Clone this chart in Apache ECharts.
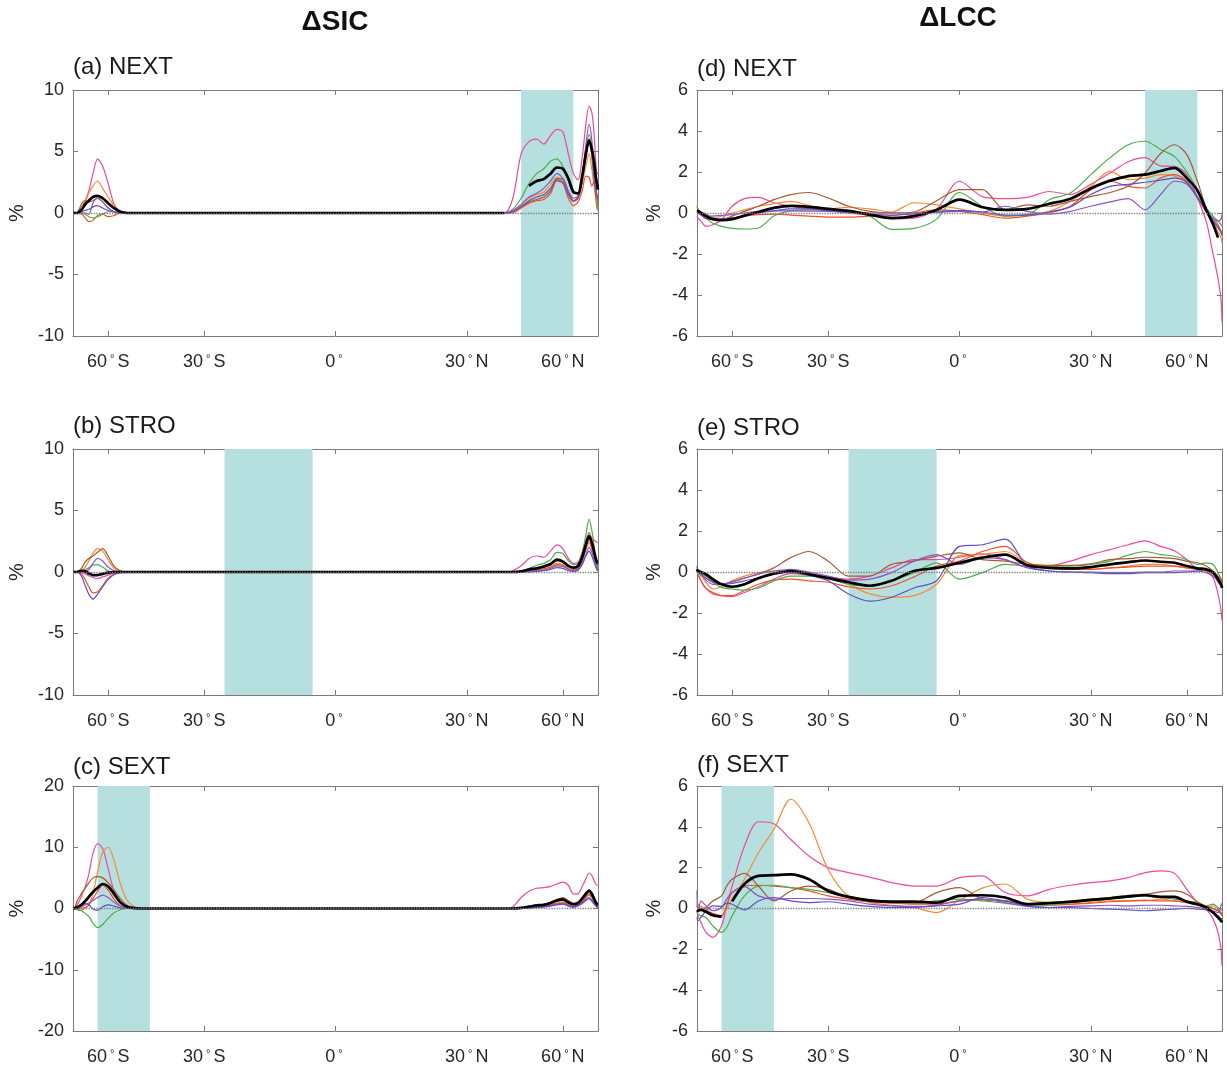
<!DOCTYPE html>
<html>
<head>
<meta charset="utf-8">
<script src="https://cdn.jsdelivr.net/npm/echarts@6/dist/echarts.min.js"></script>
<style>
html,body{margin:0;padding:0;background:#fff;}
#chart{width:1227px;height:1069px;}
</style>
</head>
<body>
<div id="chart"></div>
<script>
// ---------- latitude grids ----------
const LAT_SIC = [-90,-87.5,-85,-82.5,-80,-77.5,-75,-72.5,-70,-67.5,-65,-62.5,-60,-57.5,-55,-52.5,-50,-47.5,-45,
  -30,0,30,
  40,42.5,45,47.5,50,52.5,55,57.5,60,62.5,65,67.5,70,72.5,75,77.5,80,82.5,85,87.5,90];
const LAT_LCC = [-90,-85,-80,-75,-70,-65,-60,-55,-50,-45,-40,-35,-30,-25,-20,-15,-10,-5,0,
  5,10,15,20,25,30,35,40,45,50,55,60,65,70,75,80,85,90];
const LAT_LCC_F = [-90,-85,-80,-75,-70,-65,-62.5,-60,-55,-50,-45,-40,-35,-30,-25,-20,-15,-10,-5,0,
  5,10,15,20,25,30,35,40,45,50,55,60,65,70,75,80,85,90];

// x tick labels (latitude)
const TICK_LATS = [-60,-30,0,30,60];
const TICK_NUM = ['60','30','0','30','60'];
const TICK_HEMI = ['S','S','','N','N'];

// ---------- (a) NEXT  dSIC ----------
const A_PINK   = [0,0,0,0,0,0.1,0.5,1.0,1.8,3.2,4.4,3.8,2.4,0.7,0.1,0,0,0,0, 0,0,0, 0,1.2,4.8,5.8,6.0,5.6,6.3,6.8,6.6,4.8,3.2,2.7,4.5,7.2,8.7,8.2,6.5,4.2,3.2,3.2,3.3];
const A_ORANGE = [0,0,0,0,0,0.2,0.5,0.9,1.6,2.2,2.6,2.0,1.3,0.6,0.15,0,0,0,0, 0,0,0, 0,0.1,0.6,1.2,1.5,1.7,2.3,2.9,2.6,1.5,0.9,1.2,2.4,3.8,4.8,3.6,2.2,1.4,1.0,0.8,0.8];
const A_RED    = [0,0,0,0,0,-0.05,-0.1,-0.4,-0.7,-0.6,-0.2,-0.1,-0.3,-0.2,0,0,0,0,0, 0,0,0, 0,0,0.4,0.8,1.0,1.1,1.6,2.6,2.4,1.2,0.6,0.9,1.8,3.0,2.9,2.2,2.6,1.2,0.4,0.2,0.2];
const A_GREEN  = [0,0,0,0,0,0,0,-0.1,-0.3,-0.4,-0.3,-0.1,0.1,0.1,0,0,0,0,0, 0,0,0, 0,0.3,1.2,2.4,3.2,3.6,4.2,4.4,3.8,2.6,1.8,1.6,3.0,5.2,6.4,5.4,3.6,2.2,1.2,0.5,0.3];
const A_BROWN  = [0,0,0,0,0,0.3,0.8,1.0,0.9,1.0,1.2,0.9,0.4,0.1,0,0,0,0,0, 0,0,0, 0,0.1,0.5,0.9,1.1,1.3,1.8,2.8,2.8,1.7,1.0,1.3,3.0,5.0,6.0,4.6,2.8,1.8,1.3,1.0,1.0];
const A_PURPLE = [0,0,0,0,0,0,0,0,-0.1,0.8,1.2,0.9,0.4,0.1,0,0,0,0,0, 0,0,0, 0,0.2,0.7,1.3,1.6,2.0,2.6,3.2,2.8,1.8,1.2,1.4,3.0,5.5,7.2,6.0,3.5,2.4,2.0,2.0,2.0];
const A_INDIGO = [0,0,0,0,0,0,0.1,0.2,0.3,0.5,0.6,0.4,0.2,0.1,0,0,0,0,0, 0,0,0, 0,0.1,0.5,1.0,1.3,1.5,2.0,2.7,2.5,1.5,1.0,1.2,2.6,4.5,5.8,4.8,3.0,2.0,1.5,1.2,1.2];
const A_MEAN   = [0,0,0,0,0,0.1,0.3,0.7,1.0,1.3,1.4,1.2,0.8,0.4,0.1,0,0,0,0, 0,0,0, 0,'-','-',2.2,2.6,2.75,3.2,3.7,3.6,2.8,1.7,1.6,3.0,4.8,5.9,5.2,4.2,3.0,2.4,2.0,1.9];

// ---------- (b) STRO  dSIC ----------
const B_PINK   = [0,0,0,0,0,0,-0.05,-0.15,-0.3,-0.45,-0.55,-0.4,-0.25,-0.1,0,0,0,0,0, 0,0,0, 0,0.1,0.5,1.1,1.3,1.2,1.7,2.2,1.9,1.1,0.7,0.8,1.6,2.6,3.0,2.8,2.6,2.5,2.4,2.4,2.4];
const B_ORANGE = [0,0,0,0,0,0.05,0.1,0.4,0.9,1.5,1.9,1.7,1.0,0.3,0.05,0,0,0,0, 0,0,0, 0,0,0.05,0.15,0.2,0.3,0.45,0.7,0.6,0.3,0.2,0.35,1.0,2.0,2.6,2.0,1.2,0.7,0.5,0.4,0.4];
const B_RED    = [0,0,0,0,0,-0.05,-0.2,-0.6,-1.2,-1.7,-1.6,-1.1,-0.5,-0.2,-0.05,0,0,0,0, 0,0,0, 0,0,0,0.1,0.15,0.25,0.4,0.6,0.55,0.25,0.15,0.3,0.9,1.8,2.4,1.9,1.1,0.6,0.4,0.3,0.3];
const B_GREEN  = [0,0,0,0,0,0,0.05,0.2,0.35,0.55,0.6,0.4,0.1,0,0,0,0,0,0, 0,0,0, 0,0,0.05,0.3,0.55,0.7,1.0,1.6,1.5,0.9,0.6,0.7,1.6,3.0,4.3,3.4,2.2,1.0,0.5,0.3,0.3];
const B_BROWN  = [0,0,0,0,0,0.1,0.35,0.8,1.1,1.3,1.6,1.9,1.3,0.45,0.1,0,0,0,0, 0,0,0, 0,0,0.05,0.2,0.3,0.4,0.6,0.9,0.8,0.5,0.3,0.5,1.3,2.4,3.2,2.6,1.6,1.0,0.7,0.6,0.6];
const B_PURPLE = [0,0,0,0,0,0,0,0.05,0.2,0.7,1.1,0.9,0.4,0.1,0,0,0,0,0, 0,0,0, 0,0,0,0.05,0.1,0.15,0.3,0.5,0.45,0.2,0.1,0.2,0.7,1.4,2.0,1.6,1.0,0.5,0.2,0.1,0.1];
const B_INDIGO = [0,0,0,0,0,-0.1,-0.4,-1.1,-1.8,-2.2,-1.8,-1.2,-0.6,-0.2,-0.05,0,0,0,0, 0,0,0, 0,0,0,0,0.05,0.1,0.2,0.35,0.3,0.1,0.05,0.15,0.6,1.3,1.7,1.3,0.8,0.4,0.2,0.1,0.1];
const B_MEAN   = [0,0,0,0,0,0.05,0.1,0.05,-0.1,-0.25,-0.25,-0.15,-0.05,0,0,0,0,0,0, 0,0,0, 0,0,0.05,0.2,0.3,0.45,0.65,1.0,0.85,0.5,0.35,0.5,1.2,2.2,2.9,2.4,1.7,1.1,0.8,0.7,0.7];

// ---------- (c) SEXT  dSIC ----------
const C_PINK   = [0,0,0,0.2,0.6,1.2,2.2,3.5,5.6,9.0,10.6,9.8,6.5,2.8,0.8,0.1,0,0,0, 0,0,0, 0,0.3,1.8,2.8,3.3,3.4,3.6,4.0,4.3,3.8,2.4,2.4,3.6,4.8,5.8,5.4,4.6,4.0,3.8,3.8,3.8];
const C_ORANGE = [0,0,0,0,0,0,0.1,0.2,0.5,2.5,6.0,9.2,10.0,7.8,4.0,1.3,0.3,0,0, 0,0,0, 0,0,0.05,0.2,0.3,0.4,0.6,0.9,1.0,0.7,0.5,0.7,1.2,2.0,2.4,2.0,1.3,0.8,0.5,0.4,0.4];
const C_RED    = [0,0,0,0,-0.2,-0.3,-0.2,0.1,0.6,1.6,2.8,3.8,3.0,1.5,0.4,0.05,0,0,0, 0,0,0, 0,0,0.05,0.15,0.3,0.4,0.6,0.8,0.9,0.6,0.4,0.6,1.1,1.8,2.2,1.8,1.2,0.7,0.4,0.3,0.3];
const C_GREEN  = [0,0,0,0,-0.1,-0.2,-0.4,-0.8,-1.3,-2.4,-3.1,-2.6,-1.6,-0.7,-0.2,0,0,0,0, 0,0,0, 0,0,0.1,0.2,0.4,0.5,0.8,1.2,1.3,0.9,0.6,0.8,1.4,2.2,2.6,2.1,1.4,0.9,0.6,0.5,0.5];
const C_BROWN  = [0,0,0,0.2,1.2,1.8,2.6,3.3,4.2,5.0,5.2,5.0,4.2,3.0,1.6,0.5,0.1,0,0, 0,0,0, 0,0,0.1,0.3,0.5,0.7,1.0,1.5,1.8,1.3,0.8,1.0,1.8,2.6,3.1,2.6,1.8,1.2,0.9,0.8,0.8];
const C_PURPLE = [0,0,0,0,0,0.1,0.3,0.6,0.9,1.3,1.8,2.2,1.8,1.0,0.4,0.1,0,0,0, 0,0,0, 0,0,0,0.1,0.2,0.3,0.5,0.7,0.8,0.5,0.3,0.5,0.9,1.5,1.8,1.4,0.9,0.5,0.3,0.2,0.2];
const C_INDIGO = [0,0,0,0,0.1,0.3,0.5,0.8,0.6,-0.1,-0.3,0.3,0.6,0.4,0.1,0,0,0,0, 0,0,0, 0,0,0,0.05,0.15,0.2,0.4,0.6,0.7,0.4,0.2,0.4,0.8,1.3,1.6,1.2,0.7,0.4,0.2,0.1,0.1];
const C_MEAN   = [0,0,0,0.1,0.2,0.4,0.7,1.2,1.9,2.7,3.4,4.0,3.6,2.4,1.0,0.3,0.05,0,0, 0,0,0, 0,0,0.1,0.3,0.5,0.6,0.9,1.3,1.5,1.0,0.7,0.9,1.6,2.4,2.9,2.4,1.6,1.0,0.7,0.6,0.6];

// ---------- (d) NEXT  dLCC ----------
const D_PINK   = [-0.15,-0.25,-0.4,-0.65,-0.57,-0.33,0.33,0.7,0.76,0.5,0.33,0.2,0.1,0,-0.1,-0.28,-0.25,0.2,1.55,0.8,0.7,0.76,1.05,0.9,1.4,1.95,2.5,2.7,2.3,2.28,1.87,0.73,-0.4,-2.0,-3.2,-4.2,-5.3];
const D_ORANGE = [0.37,0.2,0,-0.15,-0.25,-0.15,0,0.15,0.33,0.45,0.57,0.37,0.2,0.28,0.2,0.05,0.5,0.4,0.2,0,-0.15,-0.08,0.08,0.57,1.3,2.03,1.63,1.7,1.87,1.8,1.46,0.73,0.08,-0.4,-0.9,-1.2,-1.45];
const D_RED    = [0.1,0.05,-0.08,-0.28,-0.33,-0.3,-0.25,-0.15,-0.08,-0.05,-0.1,-0.15,-0.2,-0.2,-0.15,-0.13,0,0.15,0.08,-0.08,-0.25,-0.15,0,0.33,1.14,1.55,1.3,1.22,1.7,1.87,1.55,0.73,0.1,-0.25,-0.57,-0.9,-1.05];
const D_GREEN  = [0.3,0.15,0,-0.25,-0.5,-0.65,-0.75,-0.78,-0.73,-0.15,0.1,0.15,0.15,0.08,-0.15,-0.8,-0.75,-0.3,1.0,0.32,-0.15,-0.08,0.65,0.98,1.87,2.7,3.33,3.5,3.1,2.75,2.0,1.14,0.25,-0.15,-0.4,-0.57,-0.65];
const D_BROWN  = [0.15,0.1,0.05,-0.05,-0.25,-0.33,-0.15,0.08,0.33,0.65,0.9,1.0,0.73,0.33,0.08,0,0.05,0.6,1.14,1.14,0.15,0.4,0.33,0.57,0.8,1.0,1.3,1.95,2.9,3.33,2.85,1.55,0.25,-0.4,-0.7,-0.9,-1.0];
const D_PURPLE = [0.08,0,-0.08,-0.12,-0.15,-0.12,-0.08,0,0.08,0.1,0.1,0.09,0.08,0.04,0,0,0,0.04,0.08,0.05,0.33,0.08,-0.05,0.08,0.33,0.54,0.7,0.15,0.9,1.55,1.4,0.75,0.08,-0.25,-0.4,-0.3,-0.08];
const D_INDIGO = [0.05,0,-0.1,-0.25,-0.3,-0.3,-0.25,-0.12,0,0.1,0.2,0.2,0.12,0.05,-0.05,-0.1,-0.05,0.05,0.12,0.05,-0.1,-0.1,0.05,0.3,0.9,1.3,1.4,1.5,1.6,1.7,1.5,0.8,0.1,-0.35,-0.7,-0.95,-1.1];
const D_MEAN   = [0.1,0.1,0,-0.15,-0.3,-0.35,-0.3,-0.13,0.05,0.25,0.35,0.3,0.2,0.1,-0.08,-0.25,-0.15,0.15,0.65,0.28,0.15,0.2,0.45,0.7,1.2,1.58,1.8,1.87,2.05,2.2,1.7,1.1,0.15,-0.55,-1.2,'-','-'];

// ---------- (e) STRO  dLCC ----------
const E_PINK   = [0.05,-0.15,-0.43,-0.8,-1.07,-1.15,-1.2,-1.0,-0.72,-0.35,-0.08,-0.15,-0.27,-0.35,-0.2,0.2,0.6,0.6,0.72,0.88,0.6,0.24,0.29,0.53,0.85,1.09,1.33,1.52,1.25,1.04,0.6,0.13,0.05,-0.27,-1.07,-1.87,-2.35];
const E_ORANGE = [0.13,0,-0.2,-0.5,-0.83,-0.72,-0.43,-0.2,-0.03,0.05,-0.03,-0.15,-0.3,-0.6,-1.07,-1.23,-1.15,-0.6,0.8,0.85,1.0,0.45,0.29,0.2,0.13,0.2,0.29,0.37,0.37,0.29,0.2,0.13,0.05,-0.1,-0.27,-0.43,-0.6];
const E_RED    = [0.05,-0.1,-0.43,-0.8,-1.0,-1.15,-1.15,-0.9,-0.6,-0.4,-0.35,-0.43,-0.5,-0.72,-0.83,-0.67,-0.24,0.29,0.53,1.0,1.25,0.45,0.2,0.13,0.13,0.2,0.24,0.29,0.29,0.29,0.2,0.13,0.08,-0.03,-0.24,-0.43,-0.6];
const E_GREEN  = [-0.2,-0.15,-0.1,-0.2,-0.5,-0.75,-0.83,-0.88,-0.78,-0.43,-0.2,-0.2,-0.3,-0.6,-0.67,-0.43,-0.03,0.45,-0.35,-0.03,0.37,0.29,0.29,0.29,0.37,0.53,0.82,1.0,0.85,0.77,0.6,0.37,0.45,0.37,-0.03,-0.35,-0.6];
const E_BROWN  = [0.13,0.08,0,-0.2,-0.43,-0.56,-0.5,-0.3,-0.1,0.2,0.7,1.0,0.53,-0.2,-0.2,0.37,0.53,0.77,0.93,0.6,0.53,0.37,0.32,0.32,0.4,0.6,0.65,0.72,0.7,0.65,0.53,0.45,0.29,0.05,-0.2,-0.35,-0.5];
const E_PURPLE = [0.13,0.05,-0.1,-0.4,-0.6,-0.6,-0.46,-0.3,-0.1,0.05,0.13,0,-0.2,-0.4,-0.35,-0.03,0.53,0.85,0.37,0.7,0.6,0.2,0.05,0,0,-0.03,-0.03,0,0,0.05,0.05,0.05,-0.03,-0.2,-0.43,-0.6,-0.67];
const E_INDIGO = [0.29,0.05,-0.1,-0.3,-0.5,-0.6,-0.56,-0.43,-0.3,-0.1,-0.03,-0.15,-0.43,-1.07,-1.42,-1.23,-0.78,-0.43,1.25,1.33,1.6,0.29,0.05,0,-0.03,-0.08,-0.08,-0.03,-0.03,-0.03,0,0.05,0.13,-0.03,-0.5,-0.67,-0.72];
const E_MEAN   = [0.13,0.05,0,-0.1,-0.35,-0.6,-0.72,-0.6,-0.3,-0.08,0.05,-0.1,-0.3,-0.5,-0.67,-0.43,0.05,0.2,0.45,0.7,0.85,0.33,0.2,0.18,0.24,0.37,0.48,0.56,0.5,0.45,0.29,0.18,0.13,-0.03,-0.35,-0.6,-0.78];

// ---------- (f) SEXT  dLCC ----------
const F_PINK   = [-0.1,-0.36,-0.68,-1.17,-1.41,-0.85,0.13,1.1,3.06,4.25,4.15,3.38,2.57,2.0,1.76,1.54,1.27,1.1,1.1,1.51,1.6,0.78,0.62,0.94,1.14,1.27,1.35,1.51,1.76,1.84,1.72,0.94,0.29,-0.03,-0.52,-1.17,-2.0,-2.8];
const F_ORANGE = [0.29,0.2,0.1,0,-0.28,-0.36,-0.03,0.46,1.43,2.73,3.87,5.35,4.2,1.9,0.6,0.3,0.15,0.05,-0.2,0.4,1.0,1.2,0.45,0.29,0.21,0.29,0.37,0.37,0.37,0.46,0.37,0.29,0.16,0.05,0.13,-0.03,-0.2,-0.28];
const F_RED    = [0.21,0.13,0,-0.11,-0.23,-0.36,0.13,0.78,1.1,1.14,1.1,1.02,0.86,0.62,0.46,0.33,0.26,0.21,0.21,0.37,0.42,0.37,0.21,0.16,0.21,0.26,0.33,0.37,0.41,0.37,0.37,0.29,0.16,0.1,0,-0.11,-0.2,-0.28];
const F_GREEN  = [-0.2,-0.28,-0.36,-0.44,-0.85,-1.17,-0.93,-0.36,0.62,1.1,1.14,1.02,0.94,0.78,0.59,0.42,0.33,0.26,0.37,0.46,0.37,0.26,0.13,0.16,0.29,0.37,0.46,0.54,0.62,0.54,0.46,0.37,0.29,0.13,0.21,0.05,-0.07,-0.11];
const F_BROWN  = [0.13,-0.03,-0.07,0.05,0.37,0.62,1.1,1.43,1.72,1.1,0.37,0.86,1.1,0.94,0.54,0.33,0.29,0.26,0.78,1.02,0.46,0.37,0.21,0.29,0.37,0.46,0.54,0.65,0.7,0.81,0.86,0.7,0.33,0.1,0,-0.11,-0.28,-0.36];
const F_PURPLE = [0.9,-0.2,0.37,0.13,-0.11,0.05,0.46,0.78,1.07,0.62,0.46,0.49,0.49,0.46,0.37,0.21,0.13,0.1,0.16,0.37,0.46,0.29,0.1,0.05,0.1,0.13,0.16,0.13,0.16,0.16,0.13,0.1,0.05,-0.03,-0.11,-0.2,0.13,0.26];
const F_INDIGO = [-0.44,-0.6,-0.44,-0.11,0.13,0.1,0.26,0.21,-0.07,0.37,0.54,0.37,0.29,0.33,0.21,0.1,0.05,0.05,0.13,0.21,0.54,0.37,0.13,0.05,0.05,0,-0.03,-0.07,-0.11,-0.07,-0.03,0,-0.03,-0.07,-0.2,-0.36,-0.49,-0.52];
const F_MEAN   = [-0.07,-0.1,-0.07,-0.16,-0.33,-0.4,'-',0.35,1.2,1.6,1.63,1.67,1.43,0.86,0.57,0.4,0.34,0.34,0.29,0.62,0.65,0.54,0.21,0.26,0.33,0.42,0.5,0.59,0.65,0.57,0.57,0.33,0.21,0.05,-0.2,-0.44,-0.6,-0.68];

// shaded latitude bands
const BAND_NEXT = [45, 65];
const BAND_STRO = [-25, -5];
const BAND_SEXT = [-65, -45];

// ---------- styling ----------
const FONT = 'Liberation Sans, Arial, Helvetica, sans-serif';
const AXC = '#7a7a7a';
const TXT = '#262626';
const MEMBER_COLORS = ['#ec4a9c', '#f88a35', '#f2502a', '#4cae4c', '#a85a32', '#8c55c4', '#5f4fc0'];
const BAND_COLOR = '#b5e0df';
const deg = Math.PI / 180;
const TICKS = TICK_LATS.map(l => Math.sin(l * deg));

const COLX = [73, 697];
const ROWY = [90, 449, 786];
const ROWH = [246, 246, 245];
const TITLE_TOP = [[55, 414, 755], [57, 416, 753]];
const PW = 525;

const panels = [
  {col:0,row:0,title:'(a) NEXT',lat:LAT_SIC,members:[A_PINK,A_ORANGE,A_RED,A_GREEN,A_BROWN,A_PURPLE,A_INDIGO],mean:A_MEAN,min:-10,max:10,step:5,band:BAND_NEXT,gap:46},
  {col:0,row:1,title:'(b) STRO',lat:LAT_SIC,members:[B_PINK,B_ORANGE,B_RED,B_GREEN,B_BROWN,B_PURPLE,B_INDIGO],mean:B_MEAN,min:-10,max:10,step:5,band:BAND_STRO,gap:46},
  {col:0,row:2,title:'(c) SEXT',lat:LAT_SIC,members:[C_PINK,C_ORANGE,C_RED,C_GREEN,C_BROWN,C_PURPLE,C_INDIGO],mean:C_MEAN,min:-20,max:20,step:10,band:BAND_SEXT,gap:46},
  {col:1,row:0,title:'(d) NEXT',lat:LAT_LCC,members:[D_PINK,D_ORANGE,D_RED,D_GREEN,D_BROWN,D_PURPLE,D_INDIGO],mean:D_MEAN,min:-6,max:6,step:2,band:BAND_NEXT,gap:33},
  {col:1,row:1,title:'(e) STRO',lat:LAT_LCC,members:[E_PINK,E_ORANGE,E_RED,E_GREEN,E_BROWN,E_PURPLE,E_INDIGO],mean:E_MEAN,min:-6,max:6,step:2,band:BAND_STRO,gap:33},
  {col:1,row:2,title:'(f) SEXT',lat:LAT_LCC_F,members:[F_PINK,F_ORANGE,F_RED,F_GREEN,F_BROWN,F_PURPLE,F_INDIGO],mean:F_MEAN,min:-6,max:6,step:2,band:BAND_SEXT,gap:33}
];

function tickFormatter(v) {
  let best = 0, bd = 1e9;
  TICKS.forEach((t, i) => { const d = Math.abs(t - v); if (d < bd) { bd = d; best = i; } });
  return '{n|' + TICK_NUM[best] + '}{d|°}' + (TICK_HEMI[best] ? '{n|' + TICK_HEMI[best] + '}' : '');
}

const grids = [], xAxes = [], yAxes = [], series = [], titles = [];

titles.push({text:'ΔSIC', left:335, top:8, textAlign:'center', padding:0,
  textStyle:{fontFamily:FONT, fontSize:28, fontWeight:'bold', color:'#111'}});
titles.push({text:'ΔLCC', left:958, top:4, textAlign:'center', padding:0,
  textStyle:{fontFamily:FONT, fontSize:28, fontWeight:'bold', color:'#111'}});

panels.forEach((p, i) => {
  const left = COLX[p.col], top = ROWY[p.row], h = ROWH[p.row];
  grids.push({left:left, top:top, width:PW, height:h, containLabel:false});
  titles.push({text:p.title, left:left, top:TITLE_TOP[p.col][p.row], padding:0,
    textStyle:{fontFamily:FONT, fontSize:24, fontWeight:'normal', color:'#1a1a1a'}});

  const axLine = {show:true, onZero:false, lineStyle:{color:AXC, width:1}};
  xAxes.push({type:'value', gridIndex:i, min:-1, max:1, position:'bottom',
    axisLine:axLine,
    axisTick:{show:true, inside:true, length:5, customValues:TICKS, lineStyle:{color:AXC}},
    axisLabel:{show:true, customValues:TICKS, formatter:tickFormatter, margin:17,
      rich:{n:{fontFamily:FONT, fontSize:18, color:TXT}, d:{fontFamily:FONT, fontSize:11, color:TXT, verticalAlign:'top', padding:[0,3,6,3]}}},
    splitLine:{show:false}});
  xAxes.push({type:'value', gridIndex:i, min:-1, max:1, position:'top',
    axisLine:axLine,
    axisTick:{show:true, inside:true, length:5, customValues:TICKS, lineStyle:{color:AXC}},
    axisLabel:{show:false}, splitLine:{show:false}});
  yAxes.push({type:'value', gridIndex:i, min:p.min, max:p.max, interval:p.step, position:'left',
    axisLine:axLine,
    axisTick:{show:true, inside:true, length:5, lineStyle:{color:AXC}},
    axisLabel:{fontFamily:FONT, fontSize:18, color:TXT, margin:9},
    splitLine:{show:false},
    name:'%', nameLocation:'middle', nameRotate:90, nameGap:p.gap,
    nameTextStyle:{fontFamily:FONT, fontSize:20, color:TXT}});
  yAxes.push({type:'value', gridIndex:i, min:p.min, max:p.max, interval:p.step, position:'right',
    axisLine:axLine,
    axisTick:{show:true, inside:true, length:5, lineStyle:{color:AXC}},
    axisLabel:{show:false}, splitLine:{show:false}});

  const xi = 2 * i, yi = 2 * i;
  // band + zero line
  series.push({type:'line', xAxisIndex:xi, yAxisIndex:yi, z:1, silent:true,
    data:[[0, 0]], symbol:'none', lineStyle:{opacity:0},
    markArea:{silent:true, itemStyle:{color:BAND_COLOR},
      data:[[{xAxis:Math.sin(p.band[0]*deg)}, {xAxis:Math.sin(p.band[1]*deg)}]]},
    markLine:{silent:true, symbol:['none','none'], label:{show:false},
      lineStyle:{type:'dotted', color:'#7d7d7d', width:1.3}, data:[{yAxis:0}]}});
  p.members.forEach((vals, k) => {
    series.push({type:'line', xAxisIndex:xi, yAxisIndex:yi, z:2, silent:true,
      data:p.lat.map((l, j) => [Math.sin(l*deg), vals[j]]),
      symbol:'none', smooth:0.3, lineStyle:{width:1.2, color:MEMBER_COLORS[k]}});
  });
  series.push({type:'line', xAxisIndex:xi, yAxisIndex:yi, z:3, silent:true,
    data:p.lat.map((l, j) => [Math.sin(l*deg), p.mean[j]]),
    symbol:'none', smooth:0.3, lineStyle:{width:2.7, color:'#000'}});
});

const chart = echarts.init(document.getElementById('chart'), null, {renderer:'canvas'});
chart.setOption({
  animation:false,
  backgroundColor:'#fff',
  title:titles,
  grid:grids,
  xAxis:xAxes,
  yAxis:yAxes,
  series:series
});
</script>
</body>
</html>
